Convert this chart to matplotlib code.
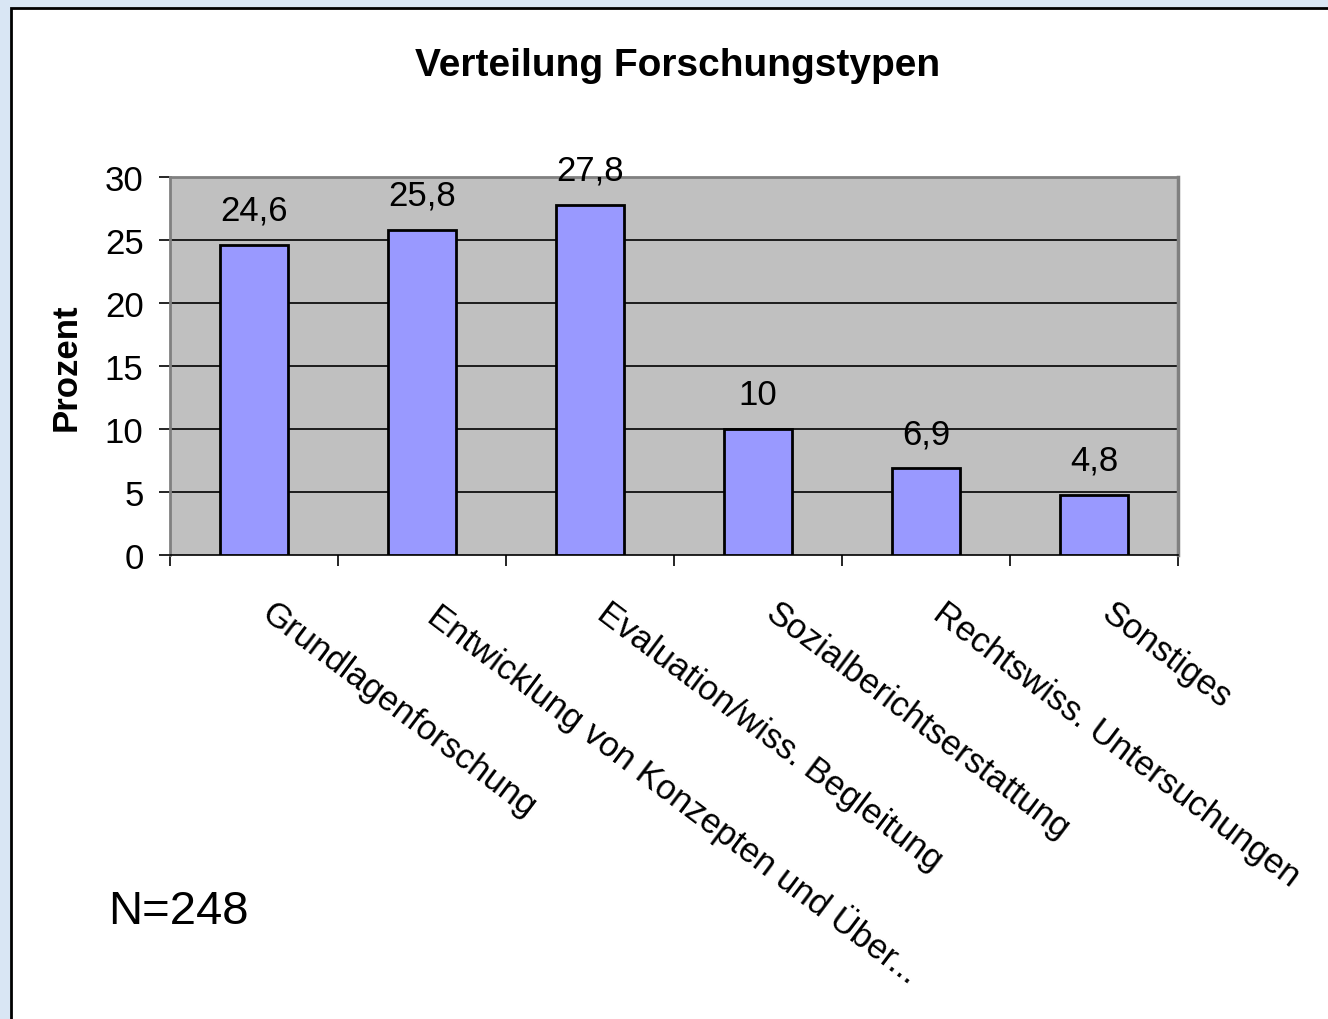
import matplotlib
matplotlib.use("Agg")
import matplotlib.pyplot as plt
from matplotlib.patches import Rectangle
import matplotlib.transforms as mtransforms

categories = ["Grundlagenforschung", "Entwicklung von Konzepten und Über...",
              "Evaluation/wiss. Begleitung", "Sozialberichtserstattung",
              "Rechtswiss. Untersuchungen", "Sonstiges"]
values = [24.6, 25.8, 27.8, 10, 6.9, 4.8]
value_labels = ["24,6", "25,8", "27,8", "10", "6,9", "4,8"]
yticks = [0, 5, 10, 15, 20, 25, 30]

plt.rcParams['font.family'] = ['Liberation Sans', 'DejaVu Sans']

W, H = 1328, 1020
fig = plt.figure(figsize=(W / 100, H / 100), dpi=100)
fig.patch.set_facecolor('#d9e6f4')

# white panel with black border
panel = Rectangle((11 / W, -0.05), 1.1, (H - 9) / H + 0.05, transform=fig.transFigure,
                  facecolor='white', edgecolor='black', linewidth=2.0, zorder=-5)
fig.patches.append(panel)

ax = fig.add_axes([170 / W, 1 - 556 / H, (1178 - 170) / W, (556 - 178) / H])
ax.set_zorder(2)
ax.set_facecolor('#c0c0c0')
x = list(range(len(categories)))
ax.bar(x, values, width=0.405, color='#9999ff', edgecolor='black', linewidth=2, zorder=3)
ax.set_xlim(-0.5, len(categories) - 0.5)
ax.set_ylim(0, 30)
ax.set_yticks(yticks)
ax.set_yticklabels([str(t) for t in yticks], fontsize=25)
for t in yticks[1:-1]:
    ax.axhline(t, color='black', linewidth=1.2, zorder=1)

ax.spines['top'].set_color('#808080')
ax.spines['top'].set_linewidth(2)
ax.spines['right'].set_color('#808080')
ax.spines['right'].set_linewidth(2.5)
ax.spines['left'].set_color('#808080')
ax.spines['left'].set_linewidth(2)
ax.spines['bottom'].set_color('black')
ax.spines['bottom'].set_linewidth(1.2)
ax.tick_params(axis='y', direction='out', length=8, width=1.2, color='black', pad=11)

# x ticks at category boundaries
ax.set_xticks([i - 0.5 for i in range(len(categories) + 1)])
ax.set_xticklabels([])
ax.tick_params(axis='x', direction='out', length=8, width=1.2, color='black')

# category labels
for i, c in enumerate(categories):
    off = mtransforms.offset_copy(ax.get_xaxis_transform(), fig=fig, x=15, y=-29, units='points')
    ax.text(i, 0, c, transform=off, rotation=-37, rotation_mode='anchor',
            ha='left', va='top', fontsize=25)

# value labels
for i, (v, lab) in enumerate(zip(values, value_labels)):
    ax.annotate(lab, (i, v), xytext=(0, 13), textcoords='offset points',
                ha='center', va='bottom', fontsize=25, annotation_clip=False)

ax.set_ylabel('Prozent', fontsize=25, fontweight='bold', labelpad=16)

fig.text(678 / W, 1 - 66 / H, 'Verteilung Forschungstypen', ha='center', va='center',
         fontsize=28, fontweight='bold')
fig.text(108 / W, 1 - 912 / H, 'N=248', ha='left', va='center', fontsize=34)

fig.savefig('out.png', dpi=100, facecolor=fig.get_facecolor())
